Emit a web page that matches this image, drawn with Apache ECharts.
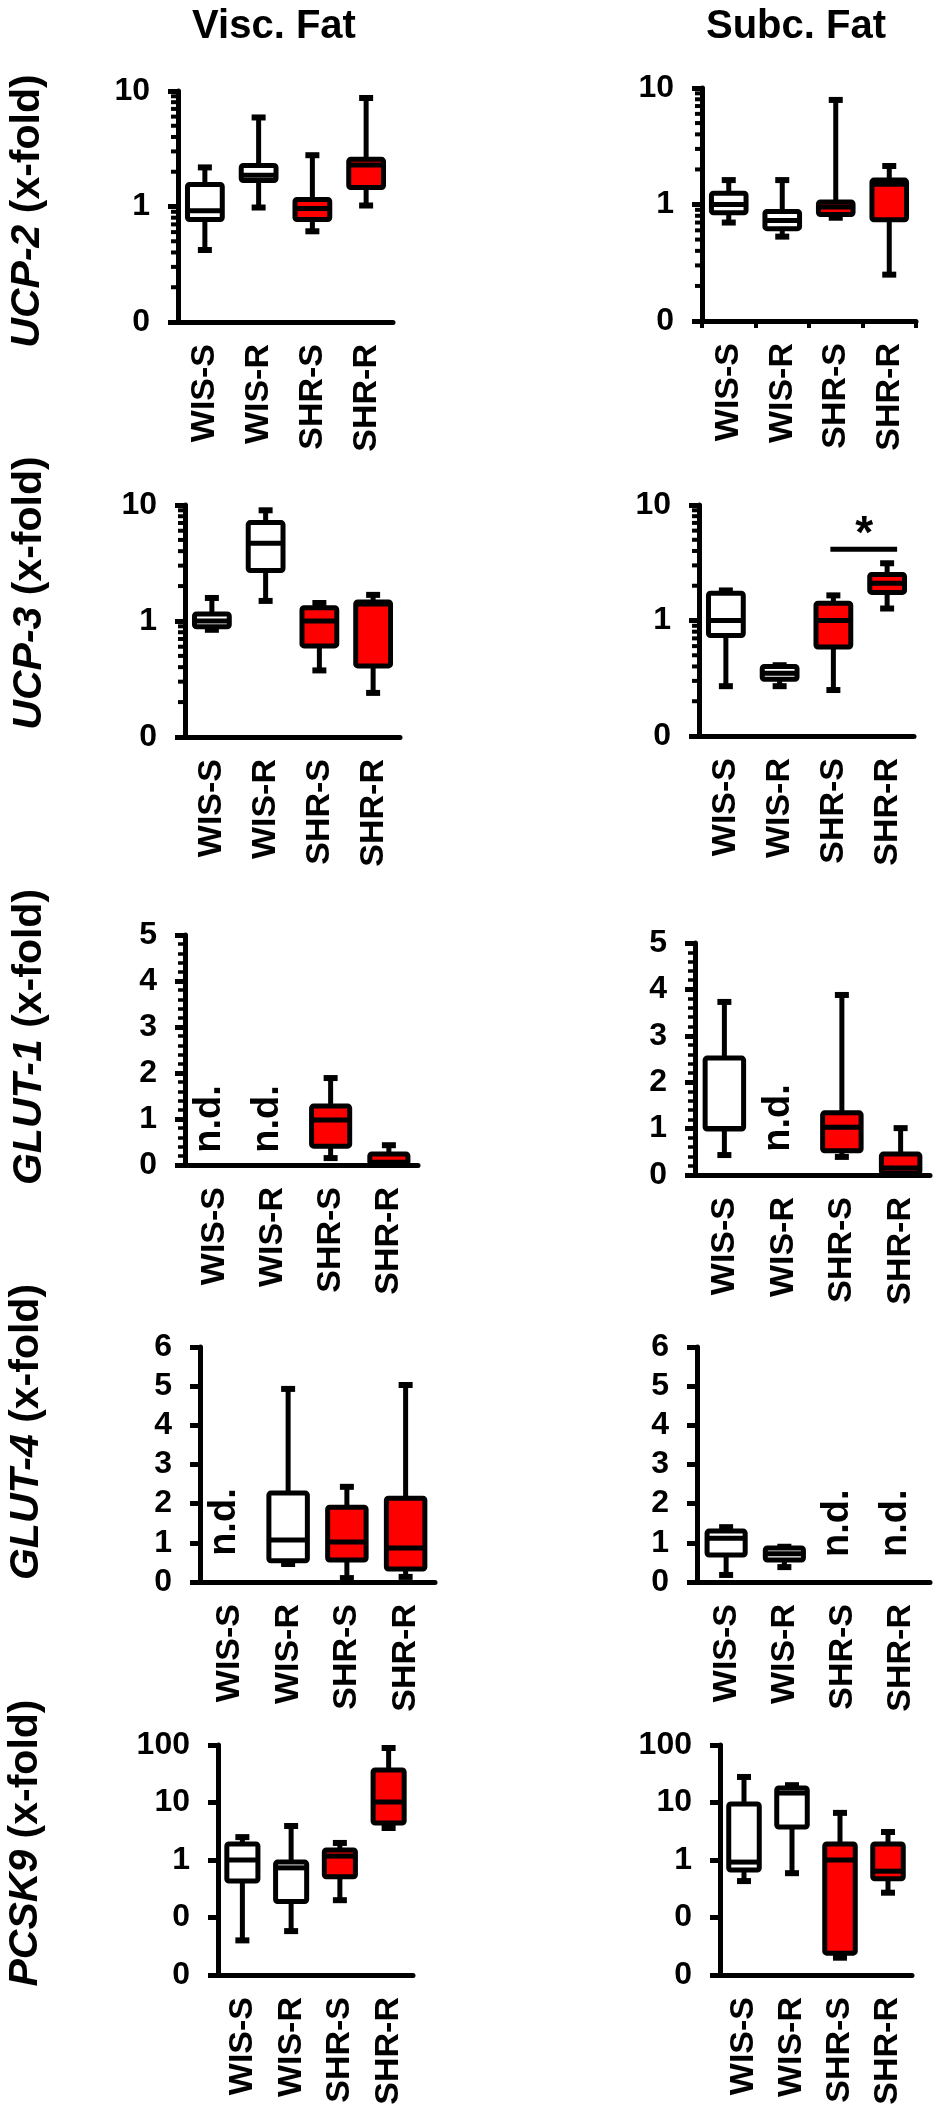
<!DOCTYPE html>
<html><head><meta charset="utf-8">
<script src="https://cdn.jsdelivr.net/npm/echarts@6/dist/echarts.min.js"></script>
<style>html,body{margin:0;padding:0;background:#fff}#c{width:950px;height:2127px}</style>
</head><body><div id="c"></div>
<script>
// ---------- DATA ----------
const categories = ['WIS-S', 'WIS-R', 'SHR-S', 'SHR-R'];
const isSHR = [0, 0, 1, 1];
// each group: [min, Q1, median, Q3, max]; null = not detected (n.d.)
const ucp2Visc = [[0.42,0.77,0.92,1.55,2.18],[0.98,1.68,1.86,2.27,5.9],[0.61,0.77,0.96,1.15,2.78],[1.02,1.46,2.29,2.56,8.7]];
const ucp2Subc = [[0.70,0.85,1.0,1.25,1.62],[0.53,0.62,0.73,0.87,1.62],[0.77,0.82,0.95,1.05,7.9],[0.25,0.74,1.49,1.62,2.14]];
const ucp3Visc = [[0.84,0.89,1.0,1.15,1.58],[1.49,2.72,4.67,7.05,9.0],[0.375,0.61,1.0,1.3,1.43],[0.24,0.41,1.40,1.46,1.68]];
const ucp3Subc = [[0.27,0.74,1.0,1.72,1.82],[0.27,0.31,0.35,0.40,0.41],[0.25,0.59,1.0,1.41,1.65],[1.27,1.75,2.1,2.5,3.13]];
const glut1Visc = [null,null,[0.15,0.41,0.98,1.28,1.89],[0.0,0.02,0.06,0.24,0.43]];
const glut1Subc = [[0.43,0.99,1.0,2.52,3.73],null,[0.39,0.52,1.03,1.34,3.88],[0.02,0.04,0.15,0.45,1.01]];
const glut4Visc = [null,[0.46,0.54,1.07,2.27,4.93],[0.1,0.56,1.02,1.91,2.43],[0.13,0.33,0.87,2.14,5.03]];
const glut4Subc = [[0.18,0.69,1.12,1.30,1.40],[0.38,0.56,0.72,0.87,0.90],null,null];
const pcsk9Visc = [[0.04,0.43,1.0,1.9,2.5],[0.058,0.19,0.73,0.92,3.9],[0.2,0.51,1.17,1.49,1.98],[3.6,4.4,10.2,36.7,88.6]];
const pcsk9Subc = [[0.43,0.67,0.92,9.4,27.8],[0.59,3.75,14.6,17.9,20],[0.02,0.024,1.0,1.9,6.6],[0.27,0.47,0.64,1.9,3.07]];
// value at which each panel's "n.d." label is centred
const ndLevel = { glut1Visc: 1.0, glut1Subc: 1.23, glut4Visc: 1.53, glut4Subc: 1.5 };
// minor log ticks
const logMinorTicks = [0.2,0.3,0.4,0.5,0.6,0.7,0.8,0.9,2,3,4,5,6,7,8,9];
// significance bracket (UCP-3, subc. fat): SHR-S vs SHR-R
const sigUcp3Subc = [[2, 3, 4.14, 6.4]];
const columnTitles = ['Visc. Fat', 'Subc. Fat'];
const geneNames = ['UCP-2', 'UCP-3', 'GLUT-1', 'GLUT-4', 'PCSK9'];

// ---------- LAYOUT ----------
const FONT = "'Liberation Sans', Arial, Helvetica, sans-serif";
const RED = '#ff0000';
const panels = [
  { key:'ucp2Visc', data: ucp2Visc, axis:'log10', grid:{left:178, top:91, width:215, height:231} },
  { key:'ucp2Subc', data: ucp2Subc, axis:'log10', grid:{left:702, top:88, width:214, height:233}, xticks:true },
  { key:'ucp3Visc', data: ucp3Visc, axis:'log10', grid:{left:185, top:505, width:215, height:232} },
  { key:'ucp3Subc', data: ucp3Subc, axis:'log10', grid:{left:699, top:505, width:215, height:231} },
  { key:'glut1Visc', data: glut1Visc, axis:'lin5', grid:{left:185, top:935, width:233, height:230} },
  { key:'glut1Subc', data: glut1Subc, axis:'lin5', grid:{left:695, top:943, width:235, height:232} },
  { key:'glut4Visc', data: glut4Visc, axis:'lin6', grid:{left:200, top:1347, width:235, height:235} },
  { key:'glut4Subc', data: glut4Subc, axis:'lin6', grid:{left:697, top:1347, width:233, height:235} },
  { key:'pcsk9Visc', data: pcsk9Visc, axis:'log100', grid:{left:218, top:1745, width:195, height:230} },
  { key:'pcsk9Subc', data: pcsk9Subc, axis:'log100', grid:{left:720, top:1745, width:192, height:230} }
];
const yTitlePos = [[28,211],[30,593],[30,1037],[27,1432],[26,1843]];
const colTitlePos = [[274,27],[796,27]];

function yAxisFor(p, i) {
  const base = {
    gridIndex: i,
    axisLine: { show: true, onZero: false, lineStyle: { color: '#000', width: 5 } },
    axisTick: { show: true, length: 10, lineStyle: { color: '#000', width: 5 } },
    axisLabel: { color: '#000', fontSize: 32, fontWeight: 'bold', fontFamily: FONT, margin: 28 },
    splitLine: { show: false }
  };
  if (p.axis === 'log10' || p.axis === 'log100') {
    base.type = 'log'; base.logBase = 10;
    base.min = p.axis === 'log10' ? 0.1 : 0.01;
    base.max = p.axis === 'log10' ? 10 : 100;
    base.axisLabel.formatter = v => (v >= 0.999 ? String(Math.round(v)) : '0');
  } else {
    base.type = 'value'; base.min = 0; base.max = p.axis === 'lin5' ? 5 : 6; base.interval = 1;
    if (p.axis === 'lin5') {
      base.minorTick = { show: true, splitNumber: 5, length: 7, lineStyle: { color: '#000', width: 3.5 } };
    }
  }
  return base;
}

function renderBox(params, api) {
  const idx = api.value(0);
  const mn = api.value(1), q1 = api.value(2), md = api.value(3), q3 = api.value(4), mx = api.value(5);
  const red = api.value(6);
  const band = api.size([1, 0])[0];
  const xc = api.coord([idx, md])[0];
  const Y = v => api.coord([idx, v])[1];
  const w = band * 0.74 - 5;
  const cap = 7;
  const lineSt = { stroke: '#000', lineWidth: 5 };
  return {
    type: 'group',
    children: [
      { type: 'line', shape: { x1: xc, y1: Y(mx), x2: xc, y2: Y(q3) }, style: lineSt },
      { type: 'line', shape: { x1: xc, y1: Y(q1), x2: xc, y2: Y(mn) }, style: lineSt },
      { type: 'line', shape: { x1: xc - cap, y1: Y(mx), x2: xc + cap, y2: Y(mx) }, style: { stroke: '#000', lineWidth: 6 } },
      { type: 'line', shape: { x1: xc - cap, y1: Y(mn), x2: xc + cap, y2: Y(mn) }, style: { stroke: '#000', lineWidth: 6 } },
      { type: 'rect', shape: { x: xc - w / 2, y: Y(q3), width: w, height: Y(q1) - Y(q3), r: 2 },
        style: { fill: red ? RED : '#fff', stroke: '#000', lineWidth: 5 } },
      { type: 'line', shape: { x1: xc - w / 2, y1: Y(md), x2: xc + w / 2, y2: Y(md) }, style: { stroke: '#000', lineWidth: 5 } }
    ]
  };
}

const grids = [], xAxes = [], yAxes = [], series = [];
panels.forEach((p, i) => {
  grids.push(Object.assign({ containLabel: false }, p.grid));
  xAxes.push({
    type: 'category', gridIndex: i, data: categories, boundaryGap: true,
    axisLine: { show: true, onZero: false, lineStyle: { color: '#000', width: 5 } },
    axisTick: { show: !!p.xticks, length: 7, lineStyle: { color: '#000', width: 4 } },
    axisLabel: { rotate: 90, color: '#000', fontSize: 34, fontWeight: 'bold', fontFamily: FONT, margin: 22, interval: 0 },
    splitLine: { show: false }
  });
  yAxes.push(yAxisFor(p, i));
  const boxData = [];
  const ndData = [];
  p.data.forEach((g, ci) => {
    if (g) boxData.push([ci].concat(g).concat([isSHR[ci]]));
    else ndData.push([ci, ndLevel[p.key]]);
  });
  series.push({
    type: 'custom', xAxisIndex: i, yAxisIndex: i, data: boxData,
    encode: { x: 0, y: [1, 2, 3, 4, 5] }, renderItem: renderBox, clip: false, silent: true, z: 5
  });
  if (ndData.length) {
    series.push({
      type: 'custom', xAxisIndex: i, yAxisIndex: i, data: ndData, encode: { x: 0, y: 1 }, silent: true,
      renderItem: (params, api) => {
        const c = api.coord([api.value(0), api.value(1)]);
        return { type: 'text', x: c[0] - 5, y: c[1], rotation: Math.PI / 2,
          style: { text: 'n.d.', fill: '#000', fontSize: 38, fontWeight: 'bold', fontFamily: FONT, align: 'center', verticalAlign: 'middle' } };
      }
    });
  }
  if (p.axis === 'log10') {
    series.push({
      type: 'custom', xAxisIndex: i, yAxisIndex: i, data: logMinorTicks.map(v => [0, v]),
      encode: { x: 0, y: 1 }, clip: false, silent: true,
      renderItem: (params, api) => {
        const c = api.coord([0, api.value(1)]);
        const left = c[0] - api.size([1, 0])[0] / 2;
        return { type: 'line', shape: { x1: left - 7, y1: c[1], x2: left, y2: c[1] }, style: { stroke: '#000', lineWidth: 4 } };
      }
    });
  }
  if (p.key === 'ucp3Subc') {
    series.push({
      type: 'custom', xAxisIndex: i, yAxisIndex: i, data: sigUcp3Subc,
      encode: { x: [0, 1], y: [2, 3] }, clip: false, silent: true,
      renderItem: (params, api) => {
        const a = api.coord([api.value(0), api.value(2)]);
        const b = api.coord([api.value(1), api.value(2)]);
        const s = api.coord([api.value(1), api.value(3)]);
        return { type: 'group', children: [
          { type: 'line', shape: { x1: a[0] - 3, y1: a[1], x2: b[0] + 10, y2: b[1] }, style: { stroke: '#000', lineWidth: 5 } },
          { type: 'text', x: (a[0] + b[0]) / 2 + 4, y: s[1] + 8,
            style: { text: '*', fill: '#000', fontSize: 46, fontWeight: 'bold', fontFamily: FONT, align: 'center', verticalAlign: 'middle' } }
        ] };
      }
    });
  }
});

const graphics = [];
columnTitles.forEach((t, k) => {
  graphics.push({ type: 'text', x: colTitlePos[k][0], y: colTitlePos[k][1],
    style: { text: t, fill: '#000', fontSize: 40, fontWeight: 'bold', fontFamily: FONT, align: 'center', verticalAlign: 'middle' } });
});
geneNames.forEach((g, k) => {
  graphics.push({ type: 'text', x: yTitlePos[k][0], y: yTitlePos[k][1], rotation: Math.PI / 2,
    style: { text: '{i|' + g + '} (x-fold)', fill: '#000', fontSize: 41, fontWeight: 'bold', fontFamily: FONT,
      align: 'center', verticalAlign: 'middle',
      rich: { i: { fontStyle: 'italic', fontWeight: 'bold', fontSize: 41, fontFamily: FONT, fill: '#000' } } } });
});

const chart = echarts.init(document.getElementById('c'), null, { renderer: 'canvas' });
chart.setOption({
  backgroundColor: '#fff',
  animation: false,
  grid: grids, xAxis: xAxes, yAxis: yAxes, series: series, graphic: graphics
});
</script></body></html>
